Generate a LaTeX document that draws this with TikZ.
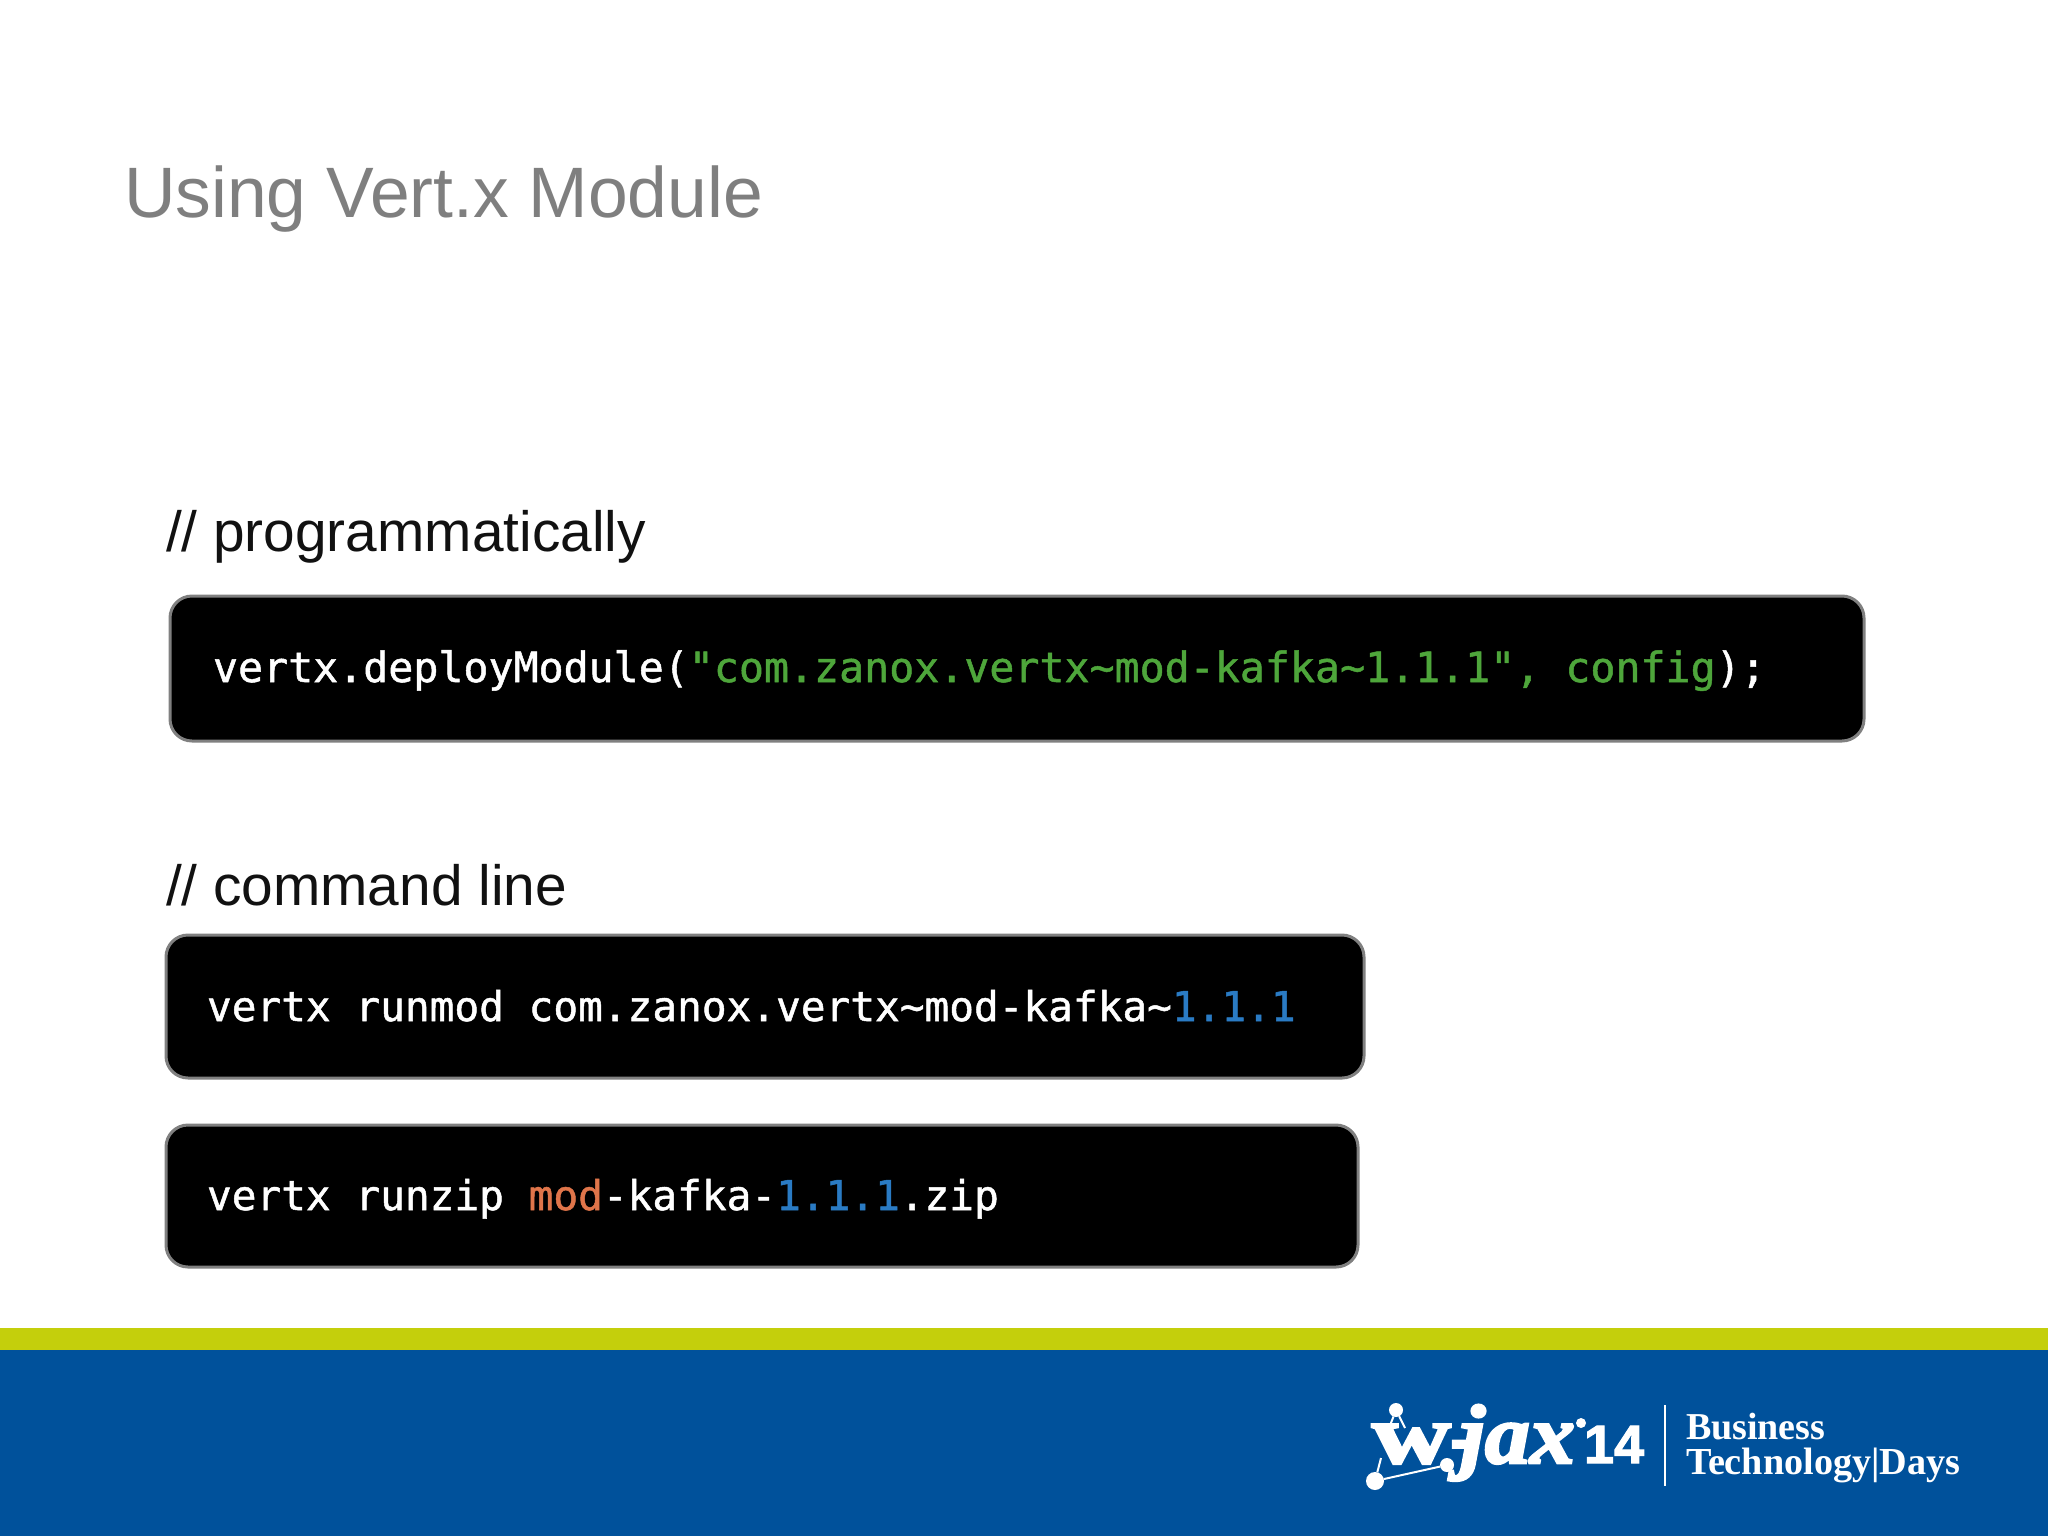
\documentclass[tikz,border=0pt]{standalone}
\usepackage{fontspec}
\setmainfont{Liberation Sans}
\newfontfamily\codefont[FakeBold=1.2]{DejaVu Sans Mono}
\newfontfamily\logoserif{Liberation Serif}
\newfontfamily\logoheavy[FakeBold=3]{Liberation Serif}
\newfontfamily\logosans[FakeBold=2]{Liberation Sans}
\definecolor{titlegray}{HTML}{7F7F7F}
\definecolor{inkdark}{HTML}{111111}
\definecolor{codegreen}{HTML}{4EA63B}
\definecolor{codeblue}{HTML}{2A7BC4}
\definecolor{codeorange}{HTML}{E0754A}
\definecolor{bandgreen}{HTML}{C4CF0C}
\definecolor{bandblue}{HTML}{00519B}
\definecolor{boxedge}{HTML}{808080}
\tikzset{
  x=0.5pt,y=-0.5pt,
  txt/.style={anchor=base west,inner sep=0pt,outer sep=0pt},
  titletext/.style={txt,text=titlegray,font=\fontsize{35.7}{40}\selectfont},
  commenttext/.style={txt,text=inkdark,font=\fontsize{28.4}{34}\selectfont},
  codebox/.style={anchor=north west,inner sep=0pt,outer sep=0pt,fill=black,draw=boxedge,line width=1.5pt,rounded corners=11pt},
  codetext/.style={txt,text=white,font=\codefont\fontsize{20.8}{24}\selectfont},
  codetextb/.style={txt,text=white,font=\codefont\fontsize{20.55}{24}\selectfont},
  logotext/.style={txt,text=white},
  logodot/.style={circle,fill=white,inner sep=0pt,outer sep=0pt},
  logoline/.style={draw=white,line width=1pt}
}
\newcommand{\gr}[1]{\textcolor{codegreen}{#1}}
\newcommand{\bl}[1]{\textcolor{codeblue}{#1}}
\newcommand{\og}[1]{\textcolor{codeorange}{#1}}
\begin{document}
\begin{tikzpicture}
\useasboundingbox (0,0) rectangle (2048,1536);
\fill[white] (0,0) rectangle (2048,1536);
\fill[bandgreen] (0,1328) rectangle (2048,1350);
\fill[bandblue] (0,1350) rectangle (2048,1536);
\node[titletext] (title) at (124,217) {Using Vert.x Module};
\node[commenttext] (c1) at (166,551) {// programmatically};
\node[commenttext] (c2) at (166,905) {// command line};
\node[codebox,minimum width=847pt,minimum height=72.5pt] (box1) at (170,596) {};
\node[codebox,minimum width=599pt,minimum height=71.5pt] (box2) at (166,935) {};
\node[codebox,minimum width=596pt,minimum height=71pt] (box3) at (166,1125) {};
\node[codetext] (code1) at (213,682) {vertx.deployModule(\gr{"com.zanox.vertx\string~mod-kafka\string~1.1.1", config});};
\node[codetextb] (code2) at (207,1021) {vertx runmod com.zanox.vertx\string~mod-kafka\string~\bl{1.1.1}};
\node[codetextb] (code3) at (207,1210) {vertx runzip \og{mod}-kafka-\bl{1.1.1}.zip};
% logo
\node[logotext,font=\logoheavy\bfseries\fontsize{42}{44}\selectfont] (lw) at (1372,1463) {\scalebox{1.3}[1]{w}};
\node[logotext,font=\logoheavy\bfseries\fontsize{40}{44}\selectfont] (ldash) at (1450,1463) {-};
\node[logotext,font=\logoheavy\bfseries\itshape\fontsize{42}{44}\selectfont] (ljax) at (1460,1463) {\scalebox{1.07}[1]{jax}};
\node[logotext,font=\logosans\bfseries\fontsize{27}{30}\selectfont] (l14) at (1584,1463) {14};
\node[logodot,minimum size=5pt] (lap) at (1581,1423) {};
\node[logodot,minimum size=9pt] (na) at (1375,1481) {};
\node[logodot,minimum size=7pt] (nb) at (1447,1465) {};
\node[logodot,minimum size=7pt] (nc) at (1396,1410) {};
\coordinate (nd) at (1381,1458);
\coordinate (ne) at (1389,1428);
\coordinate (nf) at (1405,1428);
\draw[logoline] (na) -- (nb);
\draw[logoline] (na) -- (nd);
\draw[logoline] (nc) -- (ne);
\draw[logoline] (nc) -- (nf);
\coordinate (sep1) at (1665,1405);
\coordinate (sep2) at (1665,1486);
\draw[draw=white,line width=1pt] (sep1) -- (sep2);
\node[logotext,font=\logoserif\bfseries\fontsize{19}{22}\selectfont] (lb) at (1686,1439) {Business};
\node[logotext,font=\logoserif\bfseries\fontsize{19.1}{22}\selectfont] (lt) at (1686,1474) {Technology|Days};
\end{tikzpicture}
\end{document}
